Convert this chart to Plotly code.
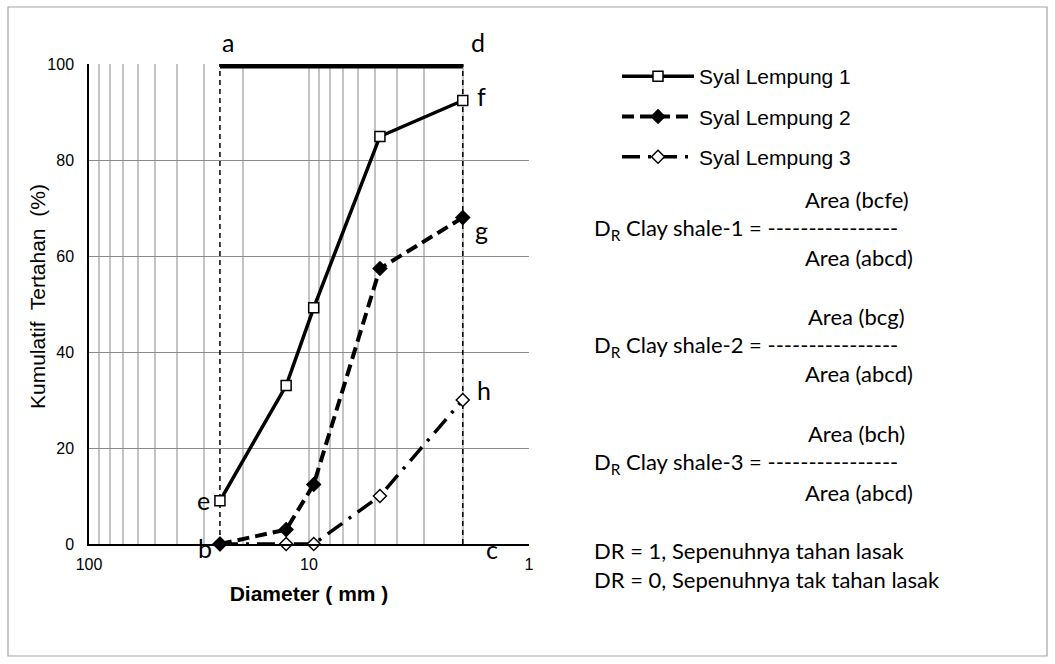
import math
import plotly.graph_objects as go

# Sieve sizes (mm) and cumulative retained (%) for each clay shale sample
diameter = [25.4, 12.7, 9.52, 4.76, 2.0]
syal_1 = [9.0, 33.0, 49.2, 84.9, 92.4]
syal_2 = [0.0, 3.0, 12.4, 57.4, 68.0]
syal_3 = [0.0, 0.0, 0.0, 10.0, 30.0]

# Reference frame a-b-c-d used for the durability ratio areas
d_max, d_min = 25.4, 2.0
frame_top, frame_bottom = 100.0, 0.0

# Plot-area geometry in pixels
W, H = 1055, 664
ML, MR, MT, MB = 89, 526, 64, 120
PW, PH = W - ML - MR, H - MT - MB


def px(x):
    return (x - ML) / PW


def py(y):
    return (H - MB - y) / PH


ARIAL = "Liberation Sans, Arial, sans-serif"
CAL = "Lato, Carlito, Calibri, sans-serif"

fig = go.Figure()

# Frame lines: dashed verticals b-a and c-d, thick top a-d
fig.add_trace(go.Scatter(x=[d_max, d_max], y=[frame_bottom, frame_top], mode="lines",
                         line=dict(color="black", width=1.5, dash="5px,4px"),
                         showlegend=False, hoverinfo="skip"))
fig.add_trace(go.Scatter(x=[d_min, d_min], y=[frame_bottom, frame_top], mode="lines",
                         line=dict(color="black", width=1.5, dash="5px,4px"),
                         showlegend=False, hoverinfo="skip"))
fig.add_trace(go.Scatter(x=[d_max, d_min], y=[frame_top, frame_top], mode="lines",
                         line=dict(color="black", width=9),
                         showlegend=False, hoverinfo="skip"))

# Sample curves
fig.add_trace(go.Scatter(x=[d_max] + diameter[1:], y=syal_3, mode="lines+markers",
                         name="Syal Lempung 3", legendrank=3, legendgroup="g3",
                         cliponaxis=False,
                         line=dict(color="black", width=3.5, dash="18px,8px,3px,8px"),
                         marker=dict(symbol="diamond", size=10, color="white",
                                     line=dict(color="black", width=1.5))))
fig.add_trace(go.Scatter(x=diameter, y=syal_2, mode="lines+markers",
                         name="Syal Lempung 2", legendrank=2, legendgroup="g2",
                         cliponaxis=False,
                         line=dict(color="black", width=4, dash="12px,6px"),
                         marker=dict(symbol="diamond", size=12, color="black")))
fig.add_trace(go.Scatter(x=diameter, y=syal_1, mode="lines+markers",
                         name="Syal Lempung 1", legendrank=1, legendgroup="g1",
                         cliponaxis=False,
                         line=dict(color="black", width=3.5),
                         marker=dict(symbol="square", size=10, color="white",
                                     line=dict(color="black", width=1.5))))

minor_vals = [m * 10 ** e for e in (0, 1) for m in range(2, 10)]

fig.update_xaxes(type="log", range=[2, 0], tickvals=[100, 10, 1],
                 ticktext=["100", "10", "1"],
                 showgrid=True, gridcolor="#c4c4c4", gridwidth=1.5,
                 minor=dict(tickvals=minor_vals, showgrid=True,
                            gridcolor="#c4c4c4", gridwidth=1.5),
                 showline=True, linecolor="black", linewidth=1.5,
                 ticks="", ticklabelstandoff=5,
                 tickfont=dict(family=ARIAL, size=16, color="black"),
                 title=dict(text="<b>Diameter ( mm )</b>", standoff=14,
                            font=dict(family=ARIAL, size=21, color="black")),
                 zeroline=False)
fig.update_yaxes(range=[0, 100], tickvals=[0, 20, 40, 60, 80, 100],
                 showgrid=True, gridcolor="#8c8c8c", gridwidth=1.2,
                 showline=True, linecolor="black", linewidth=1.5,
                 ticks="", ticklabelstandoff=10,
                 tickfont=dict(family=ARIAL, size=16, color="black"),
                 zeroline=False)

annotations = [dict(text="Kumulatif  Tertahan  (%)", textangle=-90,
                    x=px(37), y=py(297), xref="paper", yref="paper",
                    showarrow=False, xanchor="center", yanchor="middle",
                    font=dict(family=ARIAL, size=21, color="black"))]

# Point letters a..h
letters = [
    ("a", d_max, frame_top, 8, 22),
    ("d", d_min, frame_top, 15, 22),
    ("e", d_max, syal_1[0], -16, 1),
    ("b", d_max, frame_bottom, -15, -4),
    ("c", d_min, frame_bottom, 29, -5),
    ("f", d_min, syal_1[-1], 19, 4),
    ("g", d_min, syal_2[-1], 19, -12),
    ("h", d_min, syal_3[-1], 21, 10),
]
for t, x, y, dx, dy in letters:
    annotations.append(dict(text=t, x=math.log10(x), y=y, xref="x", yref="y",
                            xshift=dx, yshift=dy, showarrow=False,
                            xanchor="center", yanchor="middle",
                            font=dict(family=CAL, size=25, color="black")))

# Durability ratio definitions
dashes = "-" * 16
text_lines = [
    ("Area (bcfe)", 803, 199),
    ("D<sub>R</sub> Clay shale-1 = " + dashes, 592, 229),
    ("Area (abcd)", 803, 257),
    ("Area (bcg)", 806, 316),
    ("D<sub>R</sub> Clay shale-2 = " + dashes, 592, 346),
    ("Area (abcd)", 803, 373),
    ("Area (bch)", 806, 433),
    ("D<sub>R</sub> Clay shale-3 = " + dashes, 592, 463),
    ("Area (abcd)", 803, 492),
    ("DR = 1, Sepenuhnya tahan lasak", 592, 550),
    ("DR = 0, Sepenuhnya tak tahan lasak", 592, 579),
]
for t, x, y in text_lines:
    annotations.append(dict(text=t, x=px(x), y=py(y), xref="paper", yref="paper",
                            showarrow=False, xanchor="left", yanchor="middle",
                            font=dict(family=CAL, size=22, color="black")))

# Outer frame
shapes = [dict(type="rect", xref="paper", yref="paper",
               x0=px(8), x1=px(1047), y0=py(656), y1=py(7),
               line=dict(color="#a6a6a6", width=1.2), fillcolor="rgba(0,0,0,0)",
               layer="below")]

fig.update_layout(
    width=W, height=H,
    margin=dict(l=ML, r=MR, t=MT, b=MB),
    paper_bgcolor="white", plot_bgcolor="white",
    annotations=annotations, shapes=shapes,
    legend=dict(x=px(617), y=py(56), xanchor="left", yanchor="top",
                traceorder="grouped", tracegroupgap=10,
                itemwidth=72, bgcolor="rgba(0,0,0,0)",
                font=dict(family=ARIAL, size=21, color="black")),
)

fig.write_html("out.html")
